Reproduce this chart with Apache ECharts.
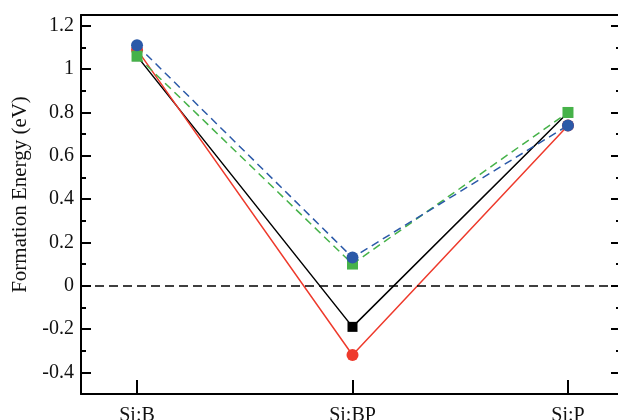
<!DOCTYPE html>
<html>
<head>
<meta charset="utf-8">
<script src="https://cdn.jsdelivr.net/npm/echarts@6/dist/echarts.min.js"></script>
<style>
  html, body { margin: 0; padding: 0; background: #fff; }
  #chart { width: 618px; height: 420px; }
</style>
</head>
<body>
<div id="chart"></div>
<script>
// 形成能 折线图
var categories = ["Si:B", "Si:BP", "Si:P"];
var blackVals = [1.06, -0.19, 0.80];
var redVals = [1.09, -0.32, 0.74];
var greenVals = [1.06, 0.10, 0.80];
var blueVals = [1.11, 0.13, 0.74];
var yMajor = [-0.4, -0.2, 0, 0.2, 0.4, 0.6, 0.8, 1, 1.2];
var yMinor = [-0.5, -0.3, -0.1, 0.1, 0.3, 0.5, 0.7, 0.9, 1.1];

var serif = "'Times New Roman', 'Liberation Serif', Times, serif";

function pts(vals) {
  return vals.map(function (v, i) { return [i, v]; });
}

// 纵轴（主刻度、次刻度、右侧镜像）
function yAx(pos, len, vals, line) {
  return {
    type: "value",
    position: pos,
    min: -0.5,
    max: 1.25,
    splitLine: { show: false },
    axisLine: { show: line, onZero: false, lineStyle: { color: "#000", width: 2 } },
    axisTick: { inside: true, length: len, customValues: vals, lineStyle: { color: "#000", width: 2 } },
    axisLabel: { show: false }
  };
}

var chart = echarts.init(document.getElementById("chart"));
var left = yAx("left", 10, yMajor, true);
left.name = "Formation Energy (eV)";
left.nameLocation = "middle";
left.nameGap = 50;
left.nameTextStyle = { fontFamily: serif, fontSize: 21, color: "#111", padding: [0, 0, 0, 20] };
left.axisLabel = {
  customValues: yMajor,
  margin: 7,
  fontFamily: serif,
  fontSize: 20,
  color: "#111",
  formatter: function (v) { return String(Math.round(v * 10) / 10); }
};

var option = {
  animation: false,
  grid: { left: 81, right: -6, top: 15, bottom: 26, containLabel: false, outerBoundsMode: "none" },
  xAxis: [
    {
      type: "value",
      min: -0.26,
      max: 2.26,
      splitLine: { show: false },
      axisLine: { onZero: false, lineStyle: { color: "#000", width: 2 } },
      axisTick: { inside: true, length: 14, customValues: [0, 1, 2], lineStyle: { color: "#000", width: 2 } },
      axisLabel: {
        customValues: [0, 1, 2],
        margin: 12,
        fontFamily: serif,
        fontSize: 20,
        color: "#111",
        formatter: function (v) { return categories[Math.round(v)]; }
      }
    },
    {
      type: "value",
      position: "top",
      min: -0.26,
      max: 2.26,
      splitLine: { show: false },
      axisLine: { onZero: false, lineStyle: { color: "#000", width: 2 } },
      axisTick: { show: false },
      axisLabel: { show: false }
    }
  ],
  yAxis: [
    left,
    yAx("left", 5, yMinor, false),
    yAx("right", 13, yMajor, true),
    yAx("right", 8, yMinor, false)
  ],
  series: [
    {
      name: "black",
      type: "line",
      data: pts(blackVals),
      symbol: "rect",
      symbolSize: 10,
      itemStyle: { color: "#000" },
      lineStyle: { color: "#000", width: 1.5 },
      markLine: {
        silent: true,
        symbol: "none",
        label: { show: false },
        lineStyle: { color: "#000", width: 1.5, type: [9, 5] },
        data: [{ yAxis: 0 }]
      }
    },
    {
      name: "red",
      type: "line",
      data: pts(redVals),
      symbol: "circle",
      symbolSize: 12,
      itemStyle: { color: "#ee3a2c" },
      lineStyle: { color: "#ee3a2c", width: 1.5 }
    },
    {
      name: "green",
      type: "line",
      data: pts(greenVals),
      symbol: "rect",
      symbolSize: 11,
      itemStyle: { color: "#46b249" },
      lineStyle: { color: "#46b249", width: 1.5, type: [8, 5] }
    },
    {
      name: "blue",
      type: "line",
      data: pts(blueVals),
      symbol: "circle",
      symbolSize: 12,
      itemStyle: { color: "#2b59a8" },
      lineStyle: { color: "#2b59a8", width: 1.5, type: [8, 5] }
    }
  ]
};
chart.setOption(option);
</script>
</body>
</html>
